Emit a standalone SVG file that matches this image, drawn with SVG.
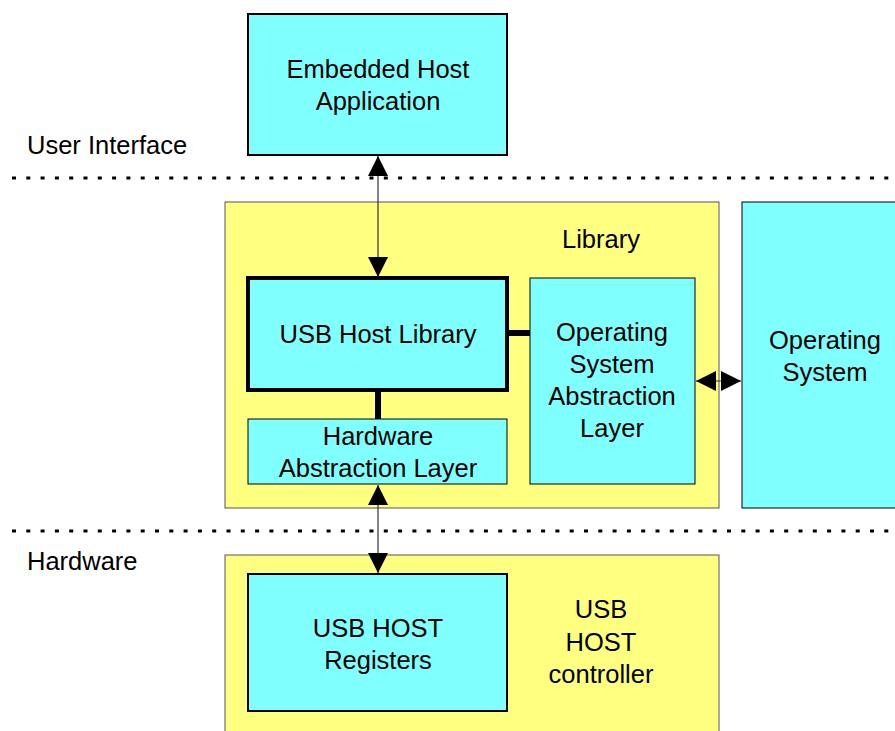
<svg xmlns="http://www.w3.org/2000/svg" width="895" height="731" viewBox="0 0 895 731">
<style>
text{font-family:"Liberation Sans",Arial,sans-serif;font-size:25.5px;fill:#000;text-anchor:middle}
.lbl{text-anchor:start}
.yel{fill:#ffff80;stroke:#555;stroke-width:1}
.cy{fill:#80ffff;stroke:#000}
.dot{stroke:#000;stroke-width:3;stroke-dasharray:4 10.3}
.ln{stroke:#333;stroke-width:1.2;fill:none}
.thk{stroke:#000;stroke-width:6;fill:none}
</style>
<defs>
<marker id="ah" viewBox="0 0 20 20" refX="20" refY="10" markerWidth="20" markerHeight="20" markerUnits="userSpaceOnUse" orient="auto-start-reverse">
<path d="M0,0 L20,10 L0,20 Z" fill="#000"/>
</marker>
</defs>
<rect width="895" height="731" fill="#fff"/>
<g id="dividers">
<line class="dot" x1="12" y1="178" x2="895" y2="178"/>
<line class="dot" x1="12" y1="531" x2="895" y2="531"/>
<text class="lbl" x="27" y="154">User Interface</text>
<text class="lbl" x="27" y="570">Hardware</text>
</g>
<g id="library">
<rect class="yel" x="225" y="202" width="494" height="306"/>
<text x="601" y="248">Library</text>
</g>
<g id="controller">
<rect class="yel" x="225" y="555" width="494" height="190"/>
<text x="601" y="618">USB</text>
<text x="601" y="651">HOST</text>
<text x="601" y="683">controller</text>
</g>
<g id="app">
<rect class="cy" x="248" y="14" width="259" height="141" stroke-width="2"/>
<text x="378" y="78">Embedded Host</text>
<text x="378" y="110">Application</text>
</g>
<g id="usbhostlib">
<rect class="cy" x="248" y="278" width="259" height="112" stroke-width="4"/>
<text x="378" y="343">USB Host Library</text>
</g>
<g id="osal">
<rect class="cy" x="530" y="278" width="165" height="206" stroke-width="1"/>
<text x="612" y="341">Operating</text>
<text x="612" y="373">System</text>
<text x="612" y="405">Abstraction</text>
<text x="612" y="437">Layer</text>
</g>
<g id="hal">
<rect class="cy" x="248" y="419" width="259" height="65" stroke-width="1"/>
<text x="378" y="445">Hardware</text>
<text x="378" y="477">Abstraction Layer</text>
</g>
<g id="os">
<rect class="cy" x="742" y="202" width="160" height="306" stroke-width="1"/>
<text x="825" y="349">Operating</text>
<text x="825" y="381">System</text>
</g>
<g id="registers">
<rect class="cy" x="248" y="574" width="259" height="137" stroke-width="2"/>
<text x="378" y="637">USB HOST</text>
<text x="378" y="669">Registers</text>
</g>
<g id="connectors">
<line class="ln" x1="378" y1="156" x2="378" y2="277" marker-start="url(#ah)" marker-end="url(#ah)"/>
<line class="ln" x1="378" y1="485" x2="378" y2="573" marker-start="url(#ah)" marker-end="url(#ah)"/>
<line class="ln" x1="696" y1="381" x2="741" y2="381" marker-start="url(#ah)" marker-end="url(#ah)"/>
<line class="thk" x1="507" y1="333" x2="530" y2="333"/>
<line class="thk" x1="378" y1="390" x2="378" y2="419"/>
</g>
</svg>
